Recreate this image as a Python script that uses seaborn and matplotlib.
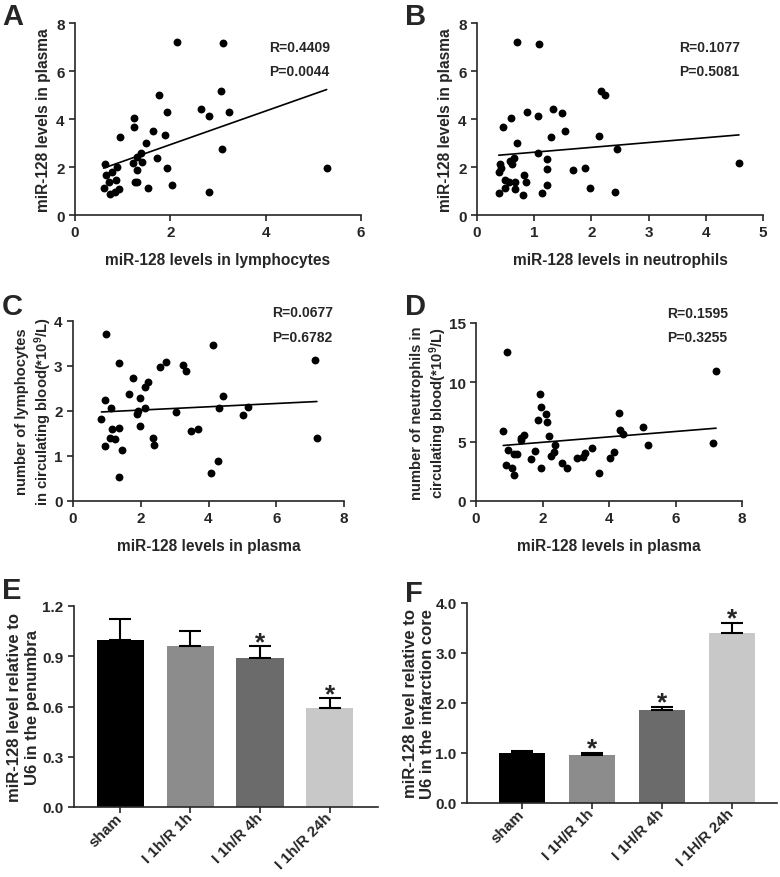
import numpy as np
import matplotlib
matplotlib.use("Agg")
import matplotlib.pyplot as plt
import seaborn as sns

# ==========================================
# Data
# ==========================================
# Panel A: lymphocyte miR-128 vs plasma miR-128
a_lymph = [2.14, 3.10, 3.07, 1.76, 2.65, 1.92, 2.81, 3.24, 1.24, 1.24, 1.63, 0.95, 1.88,
           1.48, 3.08, 1.39, 1.31, 1.71, 1.22, 1.41, 0.62, 0.89, 1.92, 5.28, 1.31, 0.65,
           0.77, 0.71, 0.85, 1.25, 1.31, 2.03, 0.60, 0.92, 1.54, 2.81, 0.74, 0.84]
a_plasma = [7.20, 7.16, 5.16, 5.02, 4.42, 4.31, 4.14, 4.28, 4.04, 3.67, 3.48, 3.26, 3.32,
            3.02, 2.73, 2.59, 2.40, 2.36, 2.16, 2.20, 2.13, 1.98, 1.94, 1.97, 1.88, 1.67,
            1.80, 1.38, 1.45, 1.37, 1.37, 1.25, 1.14, 1.09, 1.13, 0.96, 0.86, 0.96]

# Panel B: neutrophil miR-128 vs plasma miR-128
b_neut = [0.70, 1.09, 2.16, 2.24, 1.32, 0.88, 1.06, 1.48, 0.60, 0.45, 1.53, 1.30, 2.13,
          0.70, 2.45, 1.07, 0.64, 1.22, 0.58, 0.62, 0.41, 0.42, 1.22, 4.58, 1.88, 1.67,
          0.83, 0.38, 0.85, 0.49, 0.67, 0.56, 1.22, 0.49, 0.66, 1.98, 2.41, 0.38, 0.80, 1.13]
b_plasma = [7.20, 7.14, 5.16, 5.01, 4.41, 4.30, 4.13, 4.27, 4.03, 3.66, 3.48, 3.25, 3.31,
            3.02, 2.73, 2.57, 2.39, 2.35, 2.23, 2.13, 2.13, 1.97, 1.93, 2.18, 1.97, 1.88,
            1.67, 1.79, 1.36, 1.45, 1.36, 1.36, 1.27, 1.14, 1.08, 1.13, 0.96, 0.93, 0.85, 0.93]

# Panel C: plasma miR-128 vs lymphocyte count
c_plasma = [0.96, 4.13, 1.35, 2.74, 2.58, 3.25, 3.33, 7.15, 1.78, 2.21, 2.14, 1.66, 4.42,
            1.97, 0.93, 1.12, 2.14, 4.30, 5.16, 3.03, 5.01, 1.93, 1.88, 0.84, 1.97, 1.15,
            1.36, 3.48, 3.68, 1.10, 1.24, 2.35, 7.20, 0.94, 2.38, 1.45, 4.29, 4.06, 1.35]
c_lymph = [3.72, 3.47, 3.06, 3.10, 2.98, 3.03, 2.90, 3.14, 2.73, 2.65, 2.53, 2.37, 2.34,
           2.29, 2.24, 2.07, 2.06, 2.06, 2.10, 1.98, 1.92, 1.99, 1.93, 1.83, 1.67, 1.59,
           1.62, 1.55, 1.61, 1.40, 1.37, 1.40, 1.41, 1.22, 1.24, 1.14, 0.89, 0.63, 0.53]

# Panel D: plasma miR-128 vs neutrophil count
d_plasma = [0.93, 7.22, 1.93, 1.96, 2.12, 4.30, 1.87, 2.14, 5.02, 4.32, 0.82, 4.42, 1.43,
            1.34, 1.36, 2.20, 5.16, 7.14, 2.38, 3.49, 0.95, 1.77, 2.35, 4.14, 3.28, 1.14,
            1.22, 2.25, 4.03, 3.04, 3.21, 1.66, 2.59, 0.91, 1.07, 1.96, 2.73, 1.14, 3.69]
d_neut = [12.57, 10.94, 8.99, 7.95, 7.36, 7.39, 6.79, 6.63, 6.23, 6.01, 5.89, 5.67, 5.55,
          5.33, 5.16, 5.50, 4.76, 4.88, 4.68, 4.48, 4.29, 4.20, 4.09, 4.09, 4.03, 3.98,
          3.98, 3.83, 3.66, 3.66, 3.72, 3.55, 3.24, 3.02, 2.79, 2.79, 2.79, 2.17, 2.37]

# Correlation stats printed on the panels
stats = {"A": ("R=0.4409", "P=0.0044"), "B": ("R=0.1077", "P=0.5081"),
         "C": ("R=0.0677", "P=0.6782"), "D": ("R=0.1595", "P=0.3255")}

# Panels E / F: bar charts
e_groups = ["sham", "I 1h/R 1h", "I 1h/R 4h", "I 1h/R 24h"]
e_mean = [1.00, 0.96, 0.89, 0.59]
e_err = [0.12, 0.09, 0.07, 0.06]
e_sig = [False, False, True, True]

f_groups = ["sham", "I 1H/R 1h", "I 1H/R 4h", "I 1H/R 24h"]
f_mean = [1.00, 0.96, 1.87, 3.41]
f_err = [0.04, 0.04, 0.06, 0.20]
f_sig = [False, True, True, True]

bar_colors = ["#000000", "#8c8c8c", "#6b6b6b", "#c8c8c8"]

# ==========================================
# Style
# ==========================================
sns.set_style("ticks")
plt.rcParams["font.family"] = ["Liberation Sans", "DejaVu Sans"]
plt.rcParams["font.weight"] = "bold"
plt.rcParams["axes.labelweight"] = "bold"
plt.rcParams["mathtext.fontset"] = "custom"
plt.rcParams["mathtext.rm"] = "Liberation Sans:bold"
plt.rcParams["mathtext.bf"] = "Liberation Sans:bold"
plt.rcParams["mathtext.default"] = "bf"
plt.rcParams["axes.linewidth"] = 1.2
plt.rcParams["xtick.major.width"] = 1.2
plt.rcParams["ytick.major.width"] = 1.2
plt.rcParams["xtick.major.size"] = 4
plt.rcParams["ytick.major.size"] = 4
plt.rcParams["xtick.labelsize"] = 11
plt.rcParams["ytick.labelsize"] = 11

W, H = 780, 878
fig = plt.figure(figsize=(W / 100, H / 100), dpi=100)


def px_axes(left, right, top, bottom):
    # axes placed by pixel edges of the reference
    return fig.add_axes([left / W, 1 - bottom / H, (right - left) / W, (bottom - top) / H])


def scatter_panel(ax, x, y, xlim, xticks, ylim, yticks, xlabel, ylabel, key, tx, ty,
                  ysize=11.2, ypad=4):
    sns.regplot(x=x, y=y, ax=ax, ci=None, color="black", truncate=True,
                scatter_kws={"s": 32, "linewidths": 0, "alpha": 1},
                line_kws={"linewidth": 1.2})
    ax.set_xlim(*xlim)
    ax.set_ylim(*ylim)
    ax.set_xticks(xticks)
    ax.set_yticks(yticks)
    ax.set_xlabel(xlabel, fontsize=11.2, labelpad=9)
    ax.set_ylabel(ylabel, fontsize=ysize, labelpad=ypad)
    sns.despine(ax=ax)
    r, p = stats[key]
    ax.text(tx, ty[0], r, transform=ax.transAxes, fontsize=10, fontweight="bold", va="center")
    ax.text(tx, ty[1], p, transform=ax.transAxes, fontsize=10, fontweight="bold", va="center")


def bar_panel(ax, groups, means, errs, sig, ylim, yticks, ylabel, xlim, width, ypad):
    sns.barplot(x=groups, y=means, hue=groups, palette=bar_colors, legend=False,
                ax=ax, width=width, saturation=1, edgecolor="none")
    pos = np.arange(len(groups))
    ax.errorbar(pos, means, yerr=[np.zeros(len(errs)), errs], fmt="none",
                ecolor="black", elinewidth=1.5, capsize=8, capthick=1.5)
    for i, s in enumerate(sig):
        if s:
            ax.annotate("*", (pos[i], means[i] + errs[i]), xytext=(0, -2),
                        textcoords="offset points", ha="center", va="baseline",
                        fontsize=19, fontweight="bold")
    ax.set_xlim(*xlim)
    ax.set_ylim(*ylim)
    ax.set_yticks(yticks)
    ax.set_yticklabels([f"{t:.1f}" for t in yticks])
    ax.set_ylabel(ylabel, fontsize=12, labelpad=ypad)
    ax.set_xlabel("")
    ax.tick_params(axis="x", labelrotation=45, labelsize=11, pad=2)
    for lab in ax.get_xticklabels():
        lab.set_ha("right")
        lab.set_va("center")
        lab.set_rotation_mode("anchor")
    sns.despine(ax=ax)


axA = px_axes(75, 361, 24, 216)
scatter_panel(axA, a_lymph, a_plasma, (0, 6), [0, 2, 4, 6], (0, 8), [0, 2, 4, 6, 8],
              "miR-128 levels in lymphocytes", "miR-128 levels in plasma", "A", 0.678, (0.875, 0.75))

axB = px_axes(477, 763, 24, 216)
scatter_panel(axB, b_neut, b_plasma, (0, 5), [0, 1, 2, 3, 4, 5], (0, 8), [0, 2, 4, 6, 8],
              "miR-128 levels in neutrophils", "miR-128 levels in plasma", "B", 0.706, (0.875, 0.75))

axC = px_axes(73, 344, 322, 502)
scatter_panel(axC, c_plasma, c_lymph, (0, 8), [0, 2, 4, 6, 8], (0, 4), [0, 1, 2, 3, 4],
              "miR-128 levels in plasma",
              "number of lymphocytes\nin circulating blood(*10$^9$/L)", "C", 0.734, (1.05, 0.91),
              ysize=10.6, ypad=0)

axD = px_axes(476, 742, 324, 502)
scatter_panel(axD, d_plasma, d_neut, (0, 8), [0, 2, 4, 6, 8], (0, 15), [0, 5, 10, 15],
              "miR-128 levels in plasma",
              "number of neutrophils in\ncirculating blood(*10$^9$/L)", "D", 0.718, (1.056, 0.92),
              ysize=10.6, ypad=0)

axE = px_axes(74, 378, 607, 808)
bar_panel(axE, e_groups, e_mean, e_err, e_sig, (0, 1.2), [0, 0.3, 0.6, 0.9, 1.2],
          "miR-128 level relative to\nU6 in the penumbra", (-0.665, 3.69), 0.675, 2)

axF = px_axes(467, 777, 604, 804)
bar_panel(axF, f_groups, f_mean, f_err, f_sig, (0, 4), [0, 1, 2, 3, 4],
          "miR-128 level relative to\nU6 in the infarction core", (-0.79, 3.65), 0.66, 0)

# panel letters
for letter, x, y in [("A", 2, 3), ("B", 405, 3), ("C", 2, 293), ("D", 405, 293),
                     ("E", 2, 577), ("F", 405, 580)]:
    fig.text(x / W, 1 - y / H, letter, fontsize=21, fontweight="bold", va="top", ha="left")

fig.savefig("out.png", dpi=100)
